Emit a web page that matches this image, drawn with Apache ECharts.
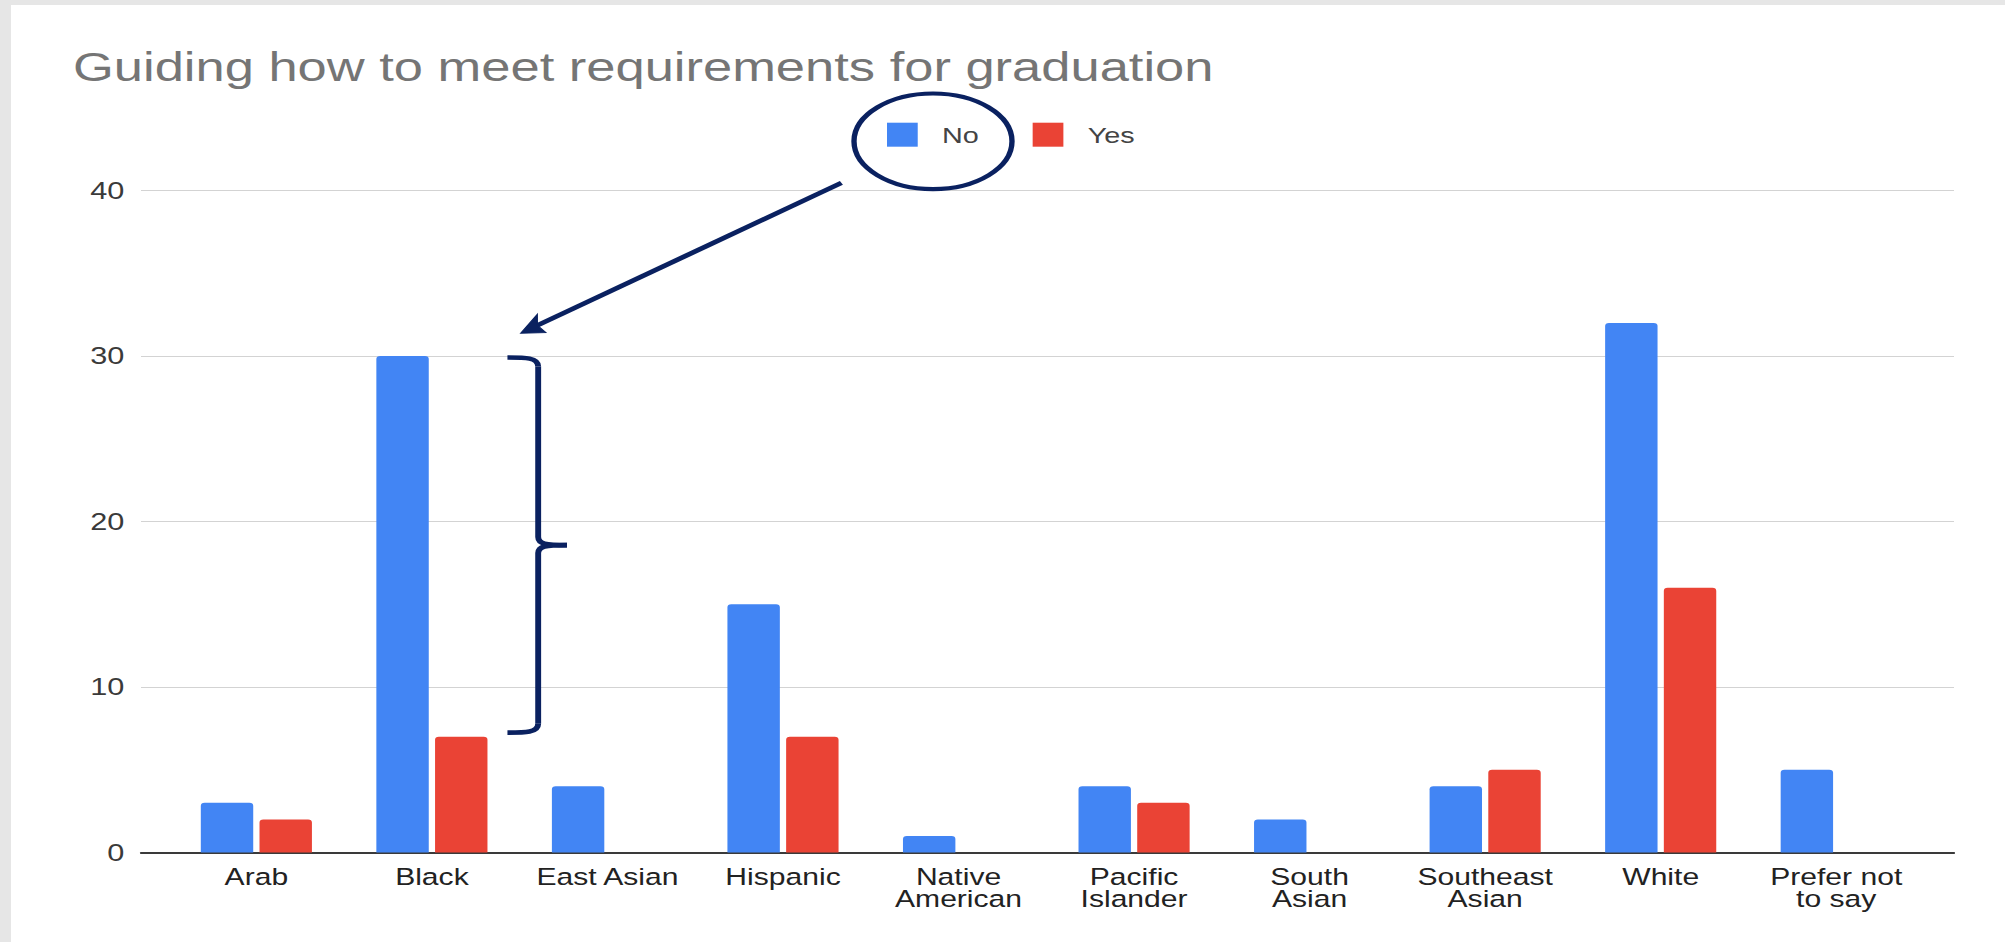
<!DOCTYPE html>
<html>
<head>
<meta charset="utf-8">
<script src="https://cdn.jsdelivr.net/npm/echarts@6/dist/echarts.min.js"></script>
<style>
  html, body { margin: 0; padding: 0; background: #ffffff; overflow: hidden; }
  #page { position: absolute; left: 0; top: 0; width: 2005px; height: 942px; background: #ffffff; overflow: hidden; }
  #chart { position: absolute; left: 0; top: 0; width: 1566px; height: 942px; transform-origin: 0 0; }
  #bandL { position: absolute; left: 0; top: 0; width: 11px; height: 942px; background: #e6e6e6; z-index: 5; }
  #bandT { position: absolute; left: 0; top: 0; width: 2005px; height: 5px; background: #e6e6e6; z-index: 5; }
</style>
</head>
<body>
<div id="page">
  <div id="chart"></div>
  <div id="bandL"></div>
  <div id="bandT"></div>
</div>
<script>
// ---------------- data ----------------
const chartTitle = 'Guiding how to meet requirements for graduation';
const categories = ['Arab', 'Black', 'East Asian', 'Hispanic', 'Native\nAmerican',
  'Pacific\nIslander', 'South\nAsian', 'Southeast\nAsian', 'White', 'Prefer not\nto say'];
const seriesNames = ['No', 'Yes'];
const noValues  = [3, 30, 4, 15, 1, 4, 2, 4, 32, 5];
const yesValues = [2, 7, 0, 7, 0, 3, 0, 5, 16, 0];
const yTicks = [0, 10, 20, 30, 40];
const highlightCategory = 'Black';
const braceFrom = 30;   // top of the bracket (No value of Black)
const braceTo = 7;      // bottom of the bracket (Yes value of Black)

// ---------------- layout ----------------
const FULL_W = 2005, H = 942, W = 1566;
const S = FULL_W / W;              // the reference picture is stretched horizontally
document.getElementById('chart').style.transform = 'scaleX(' + S + ')';
const X = v => v / S;              // full-width x -> chart x

const FONT = "'Liberation Sans', Arial, sans-serif";
const NAVY = '#0a2160';
const PLOT_TOP = 190.5, PLOT_BOTTOM = 852.5;

const chart = echarts.init(document.getElementById('chart'), null, { renderer: 'svg', width: W, height: H });

const option = {
  animation: false,
  backgroundColor: '#ffffff',
  color: ['#4285f4', '#ea4335'],
  title: {
    text: chartTitle,
    left: X(73) - 5,
    top: 41,
    textStyle: { fontFamily: FONT, fontSize: 41, fontWeight: 'normal', color: '#757575' }
  },
  legend: {
    data: seriesNames,
    left: X(887),
    top: 122.7,
    padding: 0,
    icon: 'rect',
    itemWidth: 24,
    itemHeight: 24,
    itemGap: 42,
    textStyle: { fontFamily: FONT, fontSize: 22.5, color: '#444', padding: [0, 0, 0, 14] }
  },
  grid: [
    { left: X(141), right: W - X(1954), top: PLOT_TOP, bottom: H - PLOT_BOTTOM },
    { left: X(168.6), right: W - X(1924), top: PLOT_TOP, bottom: H - PLOT_BOTTOM }
  ],
  xAxis: [
    {
      gridIndex: 0, type: 'value', min: 0, max: 1,
      axisLine: { show: true, onZero: false, lineStyle: { color: '#3a3a3a', width: 1.8 } },
      axisTick: { show: false }, axisLabel: { show: false }, splitLine: { show: false }
    },
    {
      gridIndex: 1, type: 'category', data: categories,
      axisLine: { show: false }, axisTick: { show: false },
      axisLabel: {
        interval: 0, margin: 13, fontFamily: FONT, fontSize: 23.5, lineHeight: 22.5,
        color: '#222', align: 'center'
      }
    }
  ],
  yAxis: [
    {
      gridIndex: 0, type: 'value', min: yTicks[0], max: yTicks[yTicks.length - 1],
      interval: yTicks[1] - yTicks[0],
      axisLine: { show: false }, axisTick: { show: false },
      axisLabel: { margin: 13, fontFamily: FONT, fontSize: 24, color: '#3a3a3a' },
      splitLine: { show: true, lineStyle: { color: '#d3d3d3', width: 1.2 } }
    },
    {
      gridIndex: 1, type: 'value', min: yTicks[0], max: yTicks[yTicks.length - 1],
      interval: yTicks[1] - yTicks[0], show: false, splitLine: { show: false }
    }
  ],
  series: [
    {
      name: seriesNames[0], type: 'bar', xAxisIndex: 1, yAxisIndex: 1, data: noValues,
      barGap: '12%', barCategoryGap: '36.7%',
      itemStyle: { borderRadius: [3, 3, 0, 0] }
    },
    {
      name: seriesNames[1], type: 'bar', xAxisIndex: 1, yAxisIndex: 1, data: yesValues,
      barGap: '12%', barCategoryGap: '36.7%',
      itemStyle: { borderRadius: [3, 3, 0, 0] }
    }
  ]
};
chart.setOption(option);

// ---------------- annotations ----------------
const ci = categories.indexOf(highlightCategory);
const pTop = chart.convertToPixel({ gridIndex: 1 }, [ci, braceFrom]);
const pBot = chart.convertToPixel({ gridIndex: 1 }, [ci, braceTo]);
const cx = pTop[0];
const yT = pTop[1] + 1.5, yB = pBot[1] - 4, yM = (yT + yB) / 2;
const x0 = cx + 59, xv = cx + 83, xt = cx + 105.5;
const braceStyle = { stroke: NAVY, lineWidth: 4.6, fill: null, lineCap: 'butt' };
const bz = (x1, y1, c1x, c1y, c2x, c2y, x2, y2) => ({
  type: 'bezierCurve', silent: true, z: 50,
  shape: { x1: x1, y1: y1, cpx1: c1x, cpy1: c1y, cpx2: c2x, cpy2: c2y, x2: x2, y2: y2 },
  style: braceStyle
});
const ln = (x1, y1, x2, y2, st) => ({
  type: 'line', silent: true, z: 50,
  shape: { x1: x1, y1: y1, x2: x2, y2: y2 }, style: st || braceStyle
});

// arrow (full-width coordinates converted to chart x)
const aStart = [841.4, 182.9], aTip = [520.7, 333.2];
const dx = aTip[0] - aStart[0], dy = aTip[1] - aStart[1];
const len = Math.hypot(dx, dy), ux = dx / len, uy = dy / len;
const HL = 23, HW = 10;
const base = [aTip[0] - ux * HL, aTip[1] - uy * HL];
const notch = [aTip[0] - ux * HL * 0.8, aTip[1] - uy * HL * 0.8];
const h1 = [base[0] - uy * HW, base[1] + ux * HW];
const h2 = [base[0] + uy * HW, base[1] - ux * HW];
const arrowStyle = { stroke: NAVY, lineWidth: 4.6, fill: null };

chart.setOption({
  graphic: [
    bz(x0, yT, x0 + 14, yT, xv, yT, xv, yT + 9),
    ln(xv, yT + 9, xv, yM - 8),
    bz(xv, yM - 8, xv, yM - 1, xv + 6, yM, xt, yM),
    bz(xt, yM, xv + 6, yM, xv, yM + 1, xv, yM + 8),
    ln(xv, yM + 8, xv, yB - 9),
    bz(xv, yB - 9, xv, yB, x0 + 14, yB, x0, yB),
    {
      type: 'ellipse', silent: true, z: 50,
      shape: { cx: X(933), cy: 141.3, rx: X(79), ry: 47.8 },
      style: { stroke: NAVY, lineWidth: 4.2, fill: null }
    },
    ln(X(aStart[0]), aStart[1], X(notch[0]), notch[1], arrowStyle),
    {
      type: 'polygon', silent: true, z: 50,
      shape: { points: [[X(aTip[0]), aTip[1]], [X(h1[0]), h1[1]], [X(notch[0]), notch[1]], [X(h2[0]), h2[1]]] },
      style: { fill: NAVY, stroke: NAVY, lineWidth: 1 }
    }
  ]
});
</script>
</body>
</html>
